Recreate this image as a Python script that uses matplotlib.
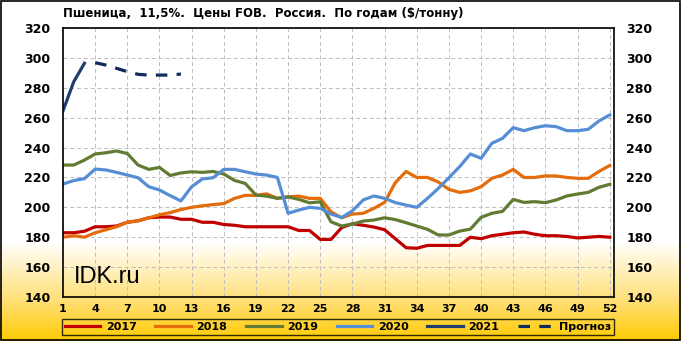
import numpy as np
import matplotlib
matplotlib.use('Agg')
import matplotlib.pyplot as plt
from matplotlib.colors import LinearSegmentedColormap
from matplotlib.patches import Rectangle

plt.rcParams['font.family'] = ['DejaVu Sans']

# данные: цена по неделям ($/т)
weeks = list(range(1, 53))

y2017 = [183, 183, 184, 187, 187, 187.5, 190, 191, 193, 193.5, 193.5, 192, 192, 190, 190, 188.5,
         188, 187, 187, 187, 187, 187, 184.5, 184.5, 178.5, 178.5, 186.5, 189, 188, 186.8, 185, 179,
         173, 172.6, 174.5, 174.5, 174.5, 174.5, 180, 179, 181, 182, 183, 183.5, 182, 181,
         181, 180.5, 179.5, 180, 180.5, 180]
y2018 = [180, 181, 180, 183, 185, 187, 190, 191, 193, 195, 196.5, 198.5, 200, 201, 201.8, 202.5,
         206, 208, 208, 209, 206, 207, 207.5, 206, 206, 197, 193, 195.5, 196, 199.3, 203.3, 216.5,
         224, 220, 220, 217, 212, 210, 211, 213.8, 219.4, 221.6, 225.4, 220, 220, 221,
         221, 220, 219.4, 219.4, 224, 228]
y2019 = [228.3, 228.3, 231.6, 235.7, 236.5, 237.7, 236, 228.3, 225.4, 226.7, 221.3, 223, 223.8,
         223.4, 224, 222.3, 218, 216, 208.2, 207.5, 206, 207, 205.3, 203, 203.7, 190.3, 187.5,
         188.8, 190.8, 191.5, 193, 191.8, 189.7, 187.5, 185.3, 181.5, 181.5, 184.1, 185.4,
         193.3, 196, 197.3, 205.3, 203.3, 203.8, 203.1, 204.9, 207.6, 208.9, 210, 213.4, 215.4]
y2020 = [215.6, 217.9, 219.2, 225.6, 225, 223.4, 221.6, 219.8, 213.8, 211.6, 207.8, 204.3, 213.8,
         219, 219.8, 225.4, 225.4, 223.8, 222.3, 221.6, 220, 196, 198.2, 200, 199.3, 195.5, 193.2,
         197.7, 204.9, 207.6, 206, 203.2, 201.5, 200, 206, 212.6, 219.8, 227.2, 235.7, 232.8,
         242.8, 246.2, 253.3, 251.3, 253.3, 254.6, 254, 251.3, 251.3, 252.2, 257.8, 261.8]
weeks2021 = [1, 2, 3]
y2021 = [264.6, 284, 296.4]
weeks_fc = [4, 5, 6, 7, 8, 9, 10, 11, 12]
y_fc = [296.8, 295.2, 293, 290.8, 289, 288.5, 288.5, 288.5, 289.2]

yticks = list(range(140, 321, 20))
xticks = list(range(1, 53, 3))

fig = plt.figure(figsize=(6.81, 3.41), dpi=100)

# фон: белый сверху, жёлтый градиент снизу
bg = fig.add_axes([0, 0, 1, 1], zorder=-10)
grad = np.linspace(0, 1, 341).reshape(-1, 1)
cmap = LinearSegmentedColormap.from_list('bg', [(0, '#FFCB05'), (0.12, '#FFE07A'),
                                                (0.29, '#FFFFFF'), (1, '#FFFFFF')])
bg.imshow(grad, aspect='auto', cmap=cmap, origin='lower', extent=[0, 1, 0, 1])
bg.axis('off')
fig.add_artist(Rectangle((0.001, 0.002), 0.997, 0.995, transform=fig.transFigure,
                         fill=False, edgecolor='black', linewidth=1.2))

ax = fig.add_axes([63 / 681, 44 / 341, 551 / 681, 269 / 341])
ax.set_facecolor('none')

lw = 2.3
ax.plot(weeks, y2017, color='#C00000', lw=lw, label='2017')
ax.plot(weeks, y2018, color='#E46C0A', lw=lw, label='2018')
ax.plot(weeks, y2019, color='#617C32', lw=lw, label='2019')
ax.plot(weeks, y2020, color='#558ED5', lw=lw, label='2020')
ax.plot(weeks2021, y2021, color='#1F3D6E', lw=lw, label='2021')
ax.plot(weeks_fc, y_fc, color='#0F2A5C', lw=lw, linestyle=(0, (3.6, 2.9)), label='Прогноз')

ax.set_xlim(1, 52.4)
ax.set_ylim(140, 320)
ax.set_xticks(xticks)
ax.set_yticks(yticks)
ax.grid(True, color='#BDBDBD', linestyle=(0, (4, 3)), linewidth=0.7)
ax.tick_params(axis='both', length=0)
ax.tick_params(axis='y', labelright=True, pad=9)
ax.tick_params(axis='x', pad=5)
for lab in ax.get_xticklabels():
    lab.set_fontweight('bold')
    lab.set_fontsize(8)
for lab in ax.get_yticklabels():
    lab.set_fontweight('bold')
    lab.set_fontsize(9)
for s in ax.spines.values():
    s.set_linewidth(1.2)
    s.set_color('black')

ax.text(0.02, 0.052, 'IDK.ru', transform=ax.transAxes, fontsize=17,
        family='Liberation Sans', va='baseline', ha='left')

fig.text(63 / 681, 1 - 14 / 341, 'Пшеница,  11,5%.  Цены FOB.  Россия.  По годам ($/тонну)',
         fontsize=8.5, fontweight='bold', va='center', ha='left')

leg = fig.legend(loc='lower left', bbox_to_anchor=(62 / 681, 6 / 341, 552 / 681, 18 / 341),
                 mode='expand', ncol=6, borderaxespad=0, frameon=True, fancybox=False,
                 handlelength=3.2, prop={'size': 8, 'weight': 'bold'}, borderpad=0.25,
                 handletextpad=0.5)
leg.get_frame().set_edgecolor('black')
leg.get_frame().set_facecolor('none')
leg.get_frame().set_linewidth(1.0)

fig.savefig('out.png', dpi=100)
